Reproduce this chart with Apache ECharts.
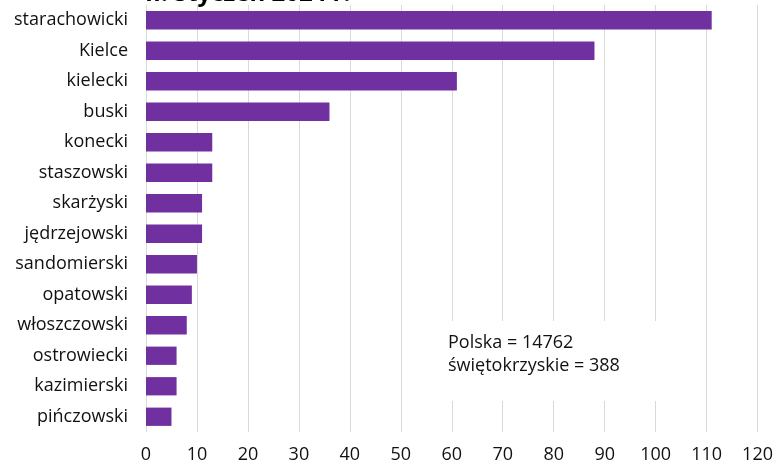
<!DOCTYPE html>
<html>
<head>
<meta charset="utf-8">
<script src="https://cdn.jsdelivr.net/npm/echarts@6/dist/echarts.min.js"></script>
<style>body{margin:0;background:#fff}#chart{width:776px;height:464px}</style>
</head>
<body>
<div id="chart"></div>
<script>
// powiaty, od góry do dołu
const powiaty = ['starachowicki', 'Kielce', 'kielecki', 'buski', 'konecki', 'staszowski', 'skarżyski',
  'jędrzejowski', 'sandomierski', 'opatowski', 'włoszczowski', 'ostrowiecki', 'kazimierski', 'pińczowski'];
const wartosci = [111, 88, 61, 36, 13, 13, 11, 11, 10, 9, 8, 6, 6, 5];
const xTicks = [0, 10, 20, 30, 40, 50, 60, 70, 80, 90, 100, 110, 120];
const podpis = ['Polska = 14762', 'świętokrzyskie = 388'];
const tytul = 'II. Styczeń 2024 r.';

const font = '"Open Sans", "Noto Sans", sans-serif';

const chart = echarts.init(document.getElementById('chart'), null, { renderer: 'canvas' });
chart.setOption({
  animation: false,
  textStyle: { fontFamily: font },
  title: {
    text: tytul,
    left: 140,
    top: -23,
    textStyle: { fontFamily: font, fontSize: 24, fontWeight: 'bold', color: '#000' }
  },
  grid: { left: 146, right: 14, top: 5, height: 428, containLabel: false },
  xAxis: {
    type: 'value',
    min: xTicks[0],
    max: xTicks[xTicks.length - 1],
    interval: 10,
    axisLine: { show: false },
    axisTick: { show: false },
    axisLabel: { color: '#111', fontSize: 18, margin: 14, fontFamily: font },
    splitLine: { lineStyle: { color: '#d9d9d9', width: 1 } }
  },
  yAxis: {
    type: 'category',
    data: powiaty,
    inverse: true,
    axisLine: { show: true, lineStyle: { color: '#d9d9d9', width: 1 } },
    axisTick: { show: false },
    axisLabel: { color: '#111', fontSize: 18, margin: 18, fontFamily: font }
  },
  series: [{
    type: 'bar',
    data: wartosci,
    barWidth: '60%',
    itemStyle: { color: '#7030A0' }
  }],
  graphic: [
    {
      type: 'rect',
      shape: { x: 404, y: 321, width: 296, height: 80 },
      style: { fill: '#fff' },
      z: 100
    },
    {
      type: 'text',
      left: 448,
      top: 331,
      z: 101,
      style: {
        text: podpis.join('\n'),
        font: '18px ' + font,
        lineHeight: 23,
        fill: '#111'
      }
    }
  ]
});
</script>
</body>
</html>
